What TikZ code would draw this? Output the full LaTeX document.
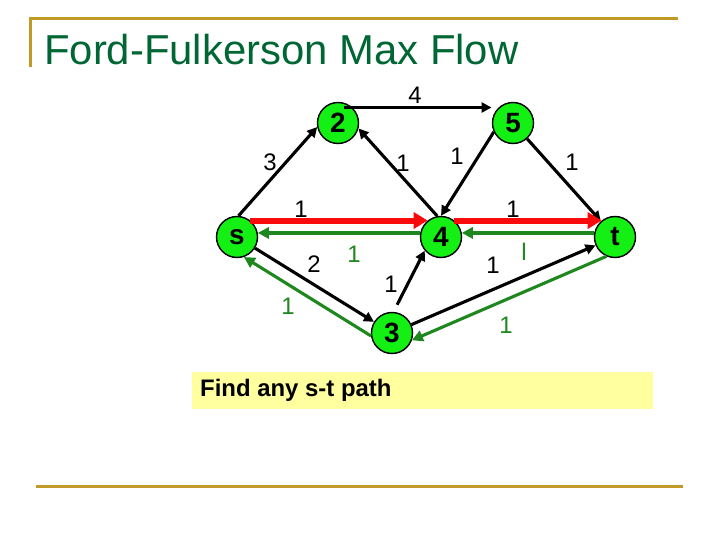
\documentclass[tikz,border=0pt]{standalone}
\usepackage{fontspec}
\setmainfont{Liberation Sans}
\usetikzlibrary{arrows.meta}
\definecolor{gold}{RGB}{193,154,42}
\definecolor{titlegreen}{RGB}{0,102,51}
\definecolor{nodegreen}{RGB}{20,240,20}
\definecolor{flowgreen}{RGB}{30,135,30}
\definecolor{flowred}{RGB}{250,10,10}
\definecolor{boxyellow}{RGB}{255,255,160}
\begin{document}
\begin{tikzpicture}[x=1bp,y=-1bp,
 vertex/.style={circle,draw=black,line width=1.4bp,fill=nodegreen,minimum size=41bp,inner sep=0pt,font=\fontsize{28}{28}\selectfont\bfseries},
 edge/.style={draw=black,line width=3.1bp,-{Triangle[length=10bp,width=10bp]}},
 flow/.style={draw=flowgreen,line width=3.1bp,-{Triangle[length=11bp,width=11bp]}},
 aug/.style={draw=flowred,line width=6bp,-{Triangle[length=14bp,width=16bp]}},
 lbl/.style={font=\fontsize{24}{24}\selectfont,inner sep=0pt},
 glbl/.style={lbl,text=flowgreen},
 rule/.style={draw=gold,line width=3bp}]
\useasboundingbox (0,0) rectangle (720,540);
% frame rules
\draw[rule] (30,67) -- (30,19) -- (678,19);
\draw[rule] (36,486) -- (683,486);
% title
\node[anchor=base west,text=titlegreen,font=\fontsize{42}{42}\selectfont,inner sep=0pt] (title) at (44,65) {Ford-Fulkerson Max Flow};
% vertices
\node[vertex] (s) at (237,237) {s};
\node[vertex] (n2) at (338,123) {2};
\node[vertex] (n5) at (513,123) {5};
\node[vertex] (n4) at (441,237) {4};
\node[vertex] (t) at (615,237) {t};
\node[vertex] (n3) at (392,333) {3};
% edges
\draw[edge] (s.86) -- (n2.191);
\draw[edge,shorten <=-8bp,shorten >=7bp] (n2.47) -- (n5.133);
\draw[edge] (n4.100) -- (n2.345);
\draw[edge] (n5.205) -- (n4.90);
\draw[edge] (n5) -- (t);
\draw[edge] (s) -- (n3);
\draw[edge,shorten <=8bp] (n3.86) -- (n4.220);
\draw[edge] (n3) -- (t);
% augmenting path
\draw[aug] (s.51) -- (n4.129);
\draw[aug] (n4.51) -- (t.129);
% residual flow
\draw[flow] (n4.169) -- (s.11);
\draw[flow] (t.169) -- (n4.11);
\draw[flow] (n3.188) -- (s.289);
\draw[flow] (t.246) -- (n3.340);
% labels
\node[lbl] (l25) at (415,95) {4};
\node[lbl] (ls2) at (270,162) {3};
\node[lbl] (l42) at (403,163) {1};
\node[lbl] (l54) at (457,156) {1};
\node[lbl] (l5t) at (572,162) {1};
\node[lbl] (ls4) at (301,209) {1};
\node[lbl] (l4t) at (513,209) {1};
\node[glbl] (l4s) at (354,254) {1};
\node[lbl] (ls3) at (314,264) {2};
\node[lbl] (l34) at (391,284) {1};
\node[glbl] (l3s) at (288,306) {1};
\node[lbl] (l3t) at (493,265) {1};
\node[glbl] (lt4) at (524,252) {l};
\node[glbl] (lt3) at (506,325) {1};
% prompt box
\node[fill=boxyellow,anchor=north west,minimum width=461bp,minimum height=37bp,inner sep=0pt] (box) at (192,372) {};
\node[anchor=west,font=\fontsize{24}{24}\selectfont\bfseries,inner sep=0pt] (prompt) at (200,390) {Find any s-t path};
\end{tikzpicture}
\end{document}
